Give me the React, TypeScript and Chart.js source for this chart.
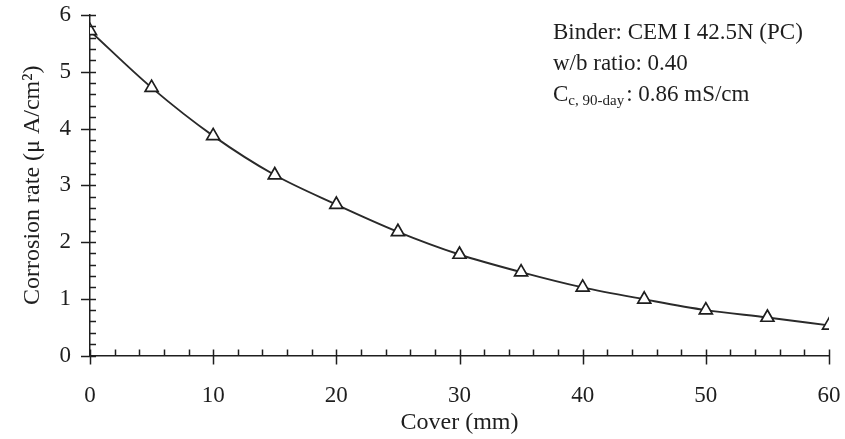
import React, { useEffect, useRef } from "react";
import { Chart, registerables } from "chart.js";

Chart.register(...registerables);

const coverMm = [0, 5, 10, 15, 20, 25, 30, 35, 40, 45, 50, 55, 60];
const corrosionRate = [5.72, 4.72, 3.87, 3.18, 2.66, 2.18, 1.78, 1.47, 1.2, 0.99, 0.8, 0.67, 0.53];

const xTitle = "Cover (mm)";
const yTitle = "Corrosion rate (\u03bc A/cm\u00b2)";
const noteLine1 = "Binder: CEM I 42.5N (PC)";
const noteLine2 = "w/b ratio: 0.40";
const noteLine3Main = "C";
const noteLine3Sub = "c, 90-day";
const noteLine3Rest = ": 0.86 mS/cm";

const X_MIN = 0, X_MAX = 60, X_MAJOR = 10, X_MINOR = 2;
const Y_MIN = 0, Y_MAX = 6, Y_MAJOR = 1, Y_MINOR = 0.2;

const FONT = "'Liberation Serif', 'Times New Roman', serif";
const INK = "#1e1e1e";

const ticksPlugin = {
  id: "customTicks",
  afterDraw(chart: any) {
    const { ctx, scales, chartArea } = chart;
    const x = scales.x, y = scales.y;
    ctx.save();
    ctx.strokeStyle = INK;
    ctx.lineWidth = 1.5;
    const inward = 6, outward = 9;
    const nx = Math.round((X_MAX - X_MIN) / X_MINOR);
    for (let i = 0; i <= nx; i++) {
      const v = X_MIN + i * X_MINOR;
      const major = Math.abs(v / X_MAJOR - Math.round(v / X_MAJOR)) < 1e-6;
      const px = Math.round(x.getPixelForValue(v)) + 0.5;
      ctx.beginPath();
      ctx.moveTo(px, chartArea.bottom - inward);
      ctx.lineTo(px, chartArea.bottom + (major ? outward : 0));
      ctx.stroke();
    }
    const ny = Math.round((Y_MAX - Y_MIN) / Y_MINOR);
    for (let i = 0; i <= ny; i++) {
      const v = Y_MIN + i * Y_MINOR;
      const major = Math.abs(v / Y_MAJOR - Math.round(v / Y_MAJOR)) < 1e-6;
      const py = Math.round(y.getPixelForValue(v)) + 0.5;
      ctx.beginPath();
      ctx.moveTo(chartArea.left - (major ? outward : 0), py);
      ctx.lineTo(chartArea.left + inward, py);
      ctx.stroke();
    }
    // annotation
    ctx.fillStyle = INK;
    ctx.textBaseline = "middle";
    ctx.textAlign = "left";
    const nx0 = 553;
    ctx.font = `23px ${FONT}`;
    ctx.fillText(noteLine1, nx0, 33);
    ctx.fillText(noteLine2, nx0, 64);
    ctx.fillText(noteLine3Main, nx0, 95);
    let cx = nx0 + ctx.measureText(noteLine3Main).width;
    ctx.font = `15px ${FONT}`;
    ctx.fillText(noteLine3Sub, cx, 101);
    cx += ctx.measureText(noteLine3Sub).width + 2;
    ctx.font = `23px ${FONT}`;
    ctx.fillText(noteLine3Rest, cx, 95);
    ctx.restore();
  },
};

export default function App() {
  const ref = useRef<HTMLCanvasElement>(null);
  useEffect(() => {
    if (!ref.current) return;
    const chart = new Chart(ref.current, {
      type: "line",
      data: {
        datasets: [
          {
            data: coverMm.map((c, i) => ({ x: c, y: corrosionRate[i] })),
            borderColor: "#2a2a2a",
            borderWidth: 1.9,
            cubicInterpolationMode: "monotone",
            pointStyle: "triangle",
            pointRadius: 7.5,
            pointBorderWidth: 1.7,
            pointBorderColor: INK,
            pointBackgroundColor: "#ffffff",
            fill: false,
          },
        ],
      },
      options: {
        responsive: false,
        animation: false,
        layout: { padding: { top: 15, right: 16, left: 0, bottom: 0 } },
        plugins: { legend: { display: false }, tooltip: { enabled: false } },
        scales: {
          x: {
            type: "linear",
            min: X_MIN,
            max: X_MAX,
            ticks: { stepSize: X_MAJOR, padding: 27, color: INK, font: { family: FONT, size: 23 }, maxRotation: 0 },
            grid: { display: false, drawTicks: false },
            border: { display: true, color: INK, width: 1.5 },
            title: { display: true, text: xTitle, color: INK, font: { family: FONT, size: 24 }, padding: { top: 0, bottom: 2 } },
            afterFit: (s: any) => {
              s.height = 83.5;
              s.paddingLeft = 0;
              s.paddingRight = 0;
            },
          },
          y: {
            type: "linear",
            min: Y_MIN,
            max: Y_MAX,
            ticks: { stepSize: Y_MAJOR, padding: 19, color: INK, font: { family: FONT, size: 23 } },
            grid: { display: false, drawTicks: false },
            border: { display: true, color: INK, width: 1.5 },
            title: { display: true, text: yTitle, color: INK, font: { family: FONT, size: 24 }, padding: { top: 18, bottom: 0 } },
            afterFit: (s: any) => {
              s.width = 90;
              s.paddingTop = 0;
              s.paddingBottom = 0;
            },
          },
        },
      },
      plugins: [ticksPlugin],
    } as any);
    return () => chart.destroy();
  }, []);
  return (
    <div style={{ position: "fixed", left: 0, top: 0, width: 845, height: 439, background: "#fff" }}>
      <canvas ref={ref} width={845} height={439} style={{ display: "block" }} />
    </div>
  );
}
